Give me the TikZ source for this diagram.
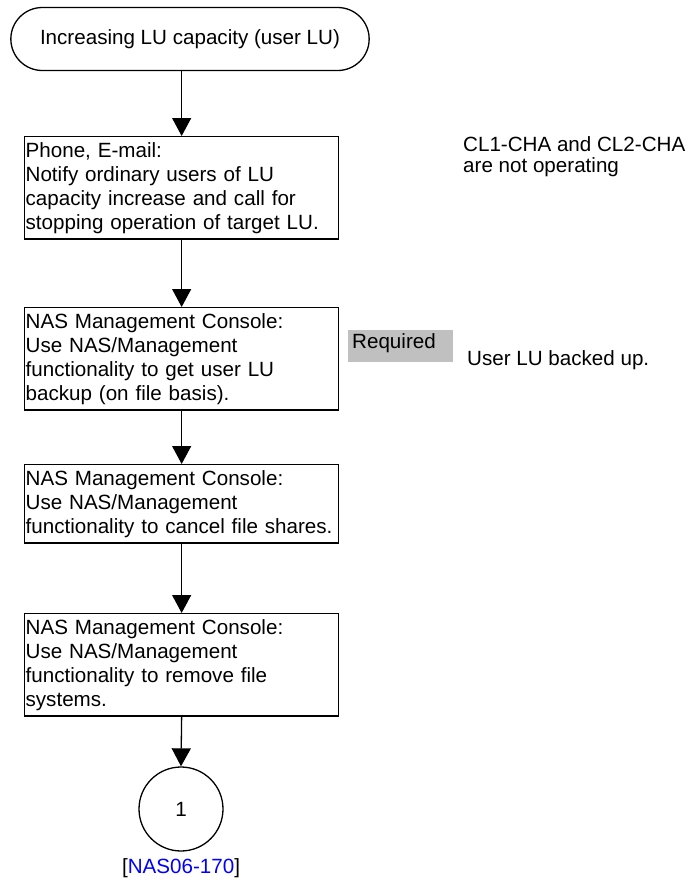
\documentclass[tikz,border=0pt]{standalone}
\usepackage{fontspec}
\setmainfont{Liberation Sans}
\usetikzlibrary{arrows.meta,shapes.misc}

\definecolor{reqgray}{RGB}{192,192,192}
\definecolor{linkblue}{RGB}{0,0,255}

\tikzstyle{every node}=[font=\fontsize{20.6}{24}\selectfont]
\tikzstyle{term} = [rounded rectangle,draw,line width=1.3pt,minimum width=365pt,minimum height=63pt]
\tikzstyle{proc} = [rectangle,draw,line width=1.3pt,anchor=north west,text width=312pt,inner xsep=1pt,inner ysep=5.5pt,align=left]
\tikzstyle{conn} = [circle,draw,line width=1.3pt,minimum size=84pt]
\tikzstyle{flow} = [-{Triangle[width=19pt,length=18pt]},line width=1.3pt]
\tikzstyle{note} = [anchor=north west,inner sep=0pt,align=left,font=\fontsize{20.6}{21}\selectfont]
\tikzstyle{reqbox} = [anchor=north west,fill=reqgray,text width=97pt,inner xsep=4pt,inner ysep=2pt,text height=16pt,text depth=12pt,align=left]

\begin{document}
\begin{tikzpicture}[x=1pt,y=-1pt]
	\useasboundingbox (0,0) rectangle (694,884);
	% flow
	\node[term] (T) at (190,39) {Increasing LU capacity (user LU)};
	\node[proc] (S1) at (24,136) {Phone, E-mail:\\Notify ordinary users of LU\\capacity increase and call for\\stopping operation of target LU.};
	\node[proc] (S2) at (24,307) {NAS Management Console:\\Use NAS/Management\\functionality to get user LU\\backup (on file basis).};
	\node[proc] (S3) at (24,464) {NAS Management Console:\\Use NAS/Management\\functionality to cancel file shares.};
	\node[proc] (S4) at (24,613) {NAS Management Console:\\Use NAS/Management\\functionality to remove file\\systems.};
	\node[conn] (C) at (181,809) {1};
	\node (L) at (181,868) {[\textcolor{linkblue}{NAS06-170}]};
	% side notes
	\node[note] (N1) at (463,136) {CL1-CHA and CL2-CHA\\are not operating};
	\node[reqbox] (Q) at (348,330) {Required};
	\node[anchor=base west,inner sep=0pt] (N2) at (467,365) {User LU backed up.};
	% arrows
	\draw[flow] (T.south -| S1.north) -- (S1.north);
	\draw[flow] (S1.south) -- (S2.north);
	\draw[flow] (S2.south) -- (S3.north);
	\draw[flow] (S3.south) -- (S4.north);
	\draw[flow] (S4.south) -- (C.north);
\end{tikzpicture}
\end{document}
